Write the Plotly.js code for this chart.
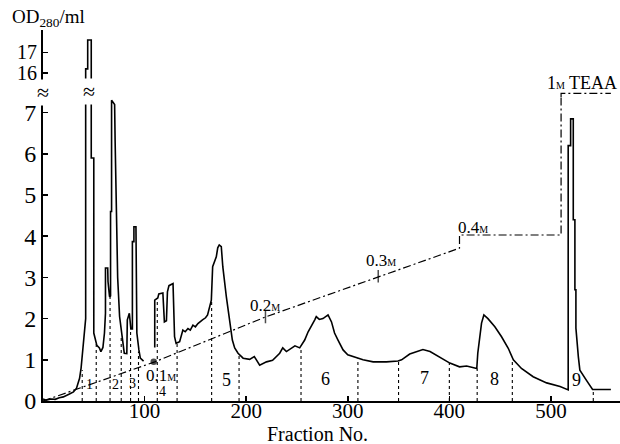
<!DOCTYPE html>
<html>
<head>
<meta charset="utf-8">
<script src="https://cdn.plot.ly/plotly-3.0.1.min.js"></script>
<style>html,body{margin:0;padding:0;background:#fff;}#chart{width:620px;height:444px;}</style>
</head>
<body>
<div id="chart"></div>
<script>
// Elution profile: fraction number vs OD280/ml
var fraction = [0,3,8,12,16,20,26,30,33,36,37.5,39.5,41,42,42,44,44,47.5,47.5,50,50,52,53,55.5,57,59,60.5,61.5,61.5,63.7,64,65.5,66.5,66.5,67.5,67.5,70.5,71,72,73.5,75.4,78,80,82.5,83,85,86.5,88,88,89.5,89.5,91.5,92.4,94.4,95.8,99,null,110,110,113,114,118,119.5,121.5,122.5,124,128,129.5,131,134.5,137.7,140,142.7,145,147.6,150,152.5,157,160,162,165.7,167,170.6,172,173.5,175.5,177,180.5,183.7,186.4,188.7,192,197,203.4,208,213.3,220,226,233,236,239.6,244.5,248,252.7,257.6,261,264,267.5,269,272,275.6,280.6,284,287,290.4,295.4,300,307,315,325,338,349.5,353,361,368,374,381,389,400.5,410,417,422,427,428,430,431.7,434,438,444.8,451.4,458,463,471,482.5,495.8,509,517,517,519.4,519.4,522,522,523.6,523.6,524.6,524.6,527,528.5,535,541,559];
var od = [0.05,0.02,0.05,0.04,0.08,0.1,0.17,0.22,0.31,0.55,0.8,1.3,1.6,2.0,16.2,16.2,17.6,17.6,5.9,5.9,1.65,1.48,1.35,1.29,1.2,1.3,1.65,2.13,3.23,3.23,2.9,2.53,2.55,4.6,4.6,7.3,7.2,6.3,4.63,3.0,2.05,1.6,1.16,1.15,1.97,2.13,1.75,1.75,3.87,3.87,4.23,4.23,1.65,1.24,1.04,0.97,null,1.3,2.45,2.5,2.6,2.62,1.92,1.95,2.65,2.8,2.85,1.56,1.4,1.44,1.72,1.68,1.76,1.72,1.84,1.8,1.88,1.97,2.02,2.09,2.45,3.26,3.5,3.72,3.79,3.75,3.26,2.53,1.89,1.48,1.29,1.16,1.04,1.01,1.08,0.87,0.95,0.99,1.16,1.29,1.2,1.29,1.34,1.29,1.48,1.68,1.8,1.97,2.05,1.98,2.0,2.09,1.92,1.65,1.48,1.24,1.12,1.06,1.0,0.95,0.95,0.97,1.0,1.14,1.2,1.25,1.2,1.08,0.92,0.83,0.85,0.82,0.79,1.16,1.56,1.89,2.09,2.0,1.8,1.56,1.28,1.0,0.79,0.59,0.44,0.35,0.27,6.2,6.2,6.85,6.85,4.4,4.4,2.7,2.7,1.77,1.07,0.75,0.5,0.28,0.28];

// Salt gradient (molarity)
var gradFraction = [0,110,219,330,410,410,510,510,559];
var gradMolar = [0,0.095,0.204,0.30,0.371,0.403,0.403,1.0,1.0];
var markFraction = [109,219,330];
var markMolar = [0.095,0.204,0.303];

// Pooled-fraction cut lines
var cutFraction = [38.6,52.4,66,77,86.2,94,112.5,132,166,193,254,310,350,400,427.4,462,541.7];
var cutHeight = [0.75,1.45,2.55,1.6,1.8,1.2,2.45,1.42,2.45,1.15,1.3,1.03,0.97,0.92,0.79,1.0,0.28];

// Pool labels
var poolLabels = ['1','2','3','4','5','6','7','8','9'];
var poolX = [45.8,71.4,88,118,180.5,278.5,376,444.8,525];
var poolY = [0.39,0.41,0.43,0.22,0.51,0.53,0.55,0.53,0.51];
var xTicks = [100,200,300,400,500];
var yTicksLow = [0,1,2,3,4,5,6,7];
var yTicksHigh = [16,17];

var cutX = [], cutY = [];
for (var i = 0; i < cutFraction.length; i++) {
  cutX.push(cutFraction[i], cutFraction[i], null);
  cutY.push(0, cutHeight[i], null);
}

var blk = 'black';
var traces = [
  {x: fraction, y: od, xaxis: 'x', yaxis: 'y', mode: 'lines', line: {color: blk, width: 1.6}, connectgaps: false, hoverinfo: 'skip'},
  {x: fraction, y: od, xaxis: 'x', yaxis: 'y2', mode: 'lines', line: {color: blk, width: 1.6}, connectgaps: false, hoverinfo: 'skip'},
  {x: gradFraction, y: gradMolar, xaxis: 'x', yaxis: 'y3', mode: 'lines', line: {color: blk, width: 1.2, dash: '8px,3px,2px,3px'}},
  {x: gradFraction, y: gradMolar, xaxis: 'x', yaxis: 'y4', mode: 'lines', line: {color: blk, width: 1.2, dash: '8px,3px,2px,3px'}},
  {x: markFraction, y: markMolar, xaxis: 'x', yaxis: 'y3', mode: 'markers',
   marker: {color: blk, size: [5, 9, 9], symbol: ['circle', 'line-ns-open', 'line-ns-open'], line: {color: blk, width: 1.5}}},
  {x: cutX, y: cutY, xaxis: 'x', yaxis: 'y', mode: 'lines', line: {color: blk, width: 1.1, dash: 'dot'}, connectgaps: false}
];

var serif = 'Liberation Serif, Times New Roman, serif';
var ann = [];
for (var k = 0; k < poolLabels.length; k++) {
  ann.push({x: poolX[k], y: poolY[k], xref: 'x', yref: 'y', text: poolLabels[k], showarrow: false,
    font: {size: k < 4 ? 14 : 18, family: serif, color: blk}});
}
var sm = function(t, s){ return t + '<span style="font-size:' + s + 'px">M</span>'; };
ann.push({x: 116.5, y: 0.63, xref: 'x', yref: 'y', text: sm('0.1', 10), showarrow: false, font: {size: 17, family: serif, color: blk}});
ann.push({x: 219, y: 2.33, xref: 'x', yref: 'y', text: sm('0.2', 10), showarrow: false, font: {size: 17, family: serif, color: blk}});
ann.push({x: 332.5, y: 3.4, xref: 'x', yref: 'y', text: sm('0.3', 10), showarrow: false, font: {size: 17, family: serif, color: blk}});
ann.push({x: 423, y: 4.2, xref: 'x', yref: 'y', text: sm('0.4', 10), showarrow: false, font: {size: 17, family: serif, color: blk}});
ann.push({x: 530.5, y: 15.53, xref: 'x', yref: 'y2', text: '1<span style="font-size:10px">M</span> TEAA', showarrow: false, font: {size: 18, family: serif, color: blk}});
ann.push({x: -0.0572, y: 1.032, xref: 'paper', yref: 'paper', xanchor: 'left', yanchor: 'middle', text: 'OD<sub>280</sub>/ml', showarrow: false, font: {size: 19, family: serif, color: blk}});
ann.push({x: 0.4755, y: -0.0895, xref: 'paper', yref: 'paper', xanchor: 'center', yanchor: 'middle', text: 'Fraction No.', showarrow: false, font: {size: 20, family: serif, color: blk}});
ann.push({x: 0, y: 0.832, xref: 'paper', yref: 'paper', xanchor: 'center', yanchor: 'middle', text: '≈', showarrow: false, bgcolor: 'white', borderpad: 0, font: {size: 22, family: serif, color: blk}});
ann.push({x: 0.0794, y: 0.835, xref: 'paper', yref: 'paper', xanchor: 'center', yanchor: 'middle', text: '≈', showarrow: false, bgcolor: 'white', borderpad: 0, font: {size: 22, family: serif, color: blk}});

var axStyle = {showline: true, linecolor: blk, linewidth: 2, ticks: 'inside', ticklen: 5, tickwidth: 1.5, tickcolor: blk, showgrid: false, zeroline: false};
var layout = {
  width: 620, height: 444,
  margin: {l: 43, r: 0, t: 30, b: 43},
  paper_bgcolor: 'white', plot_bgcolor: 'white',
  showlegend: false,
  font: {family: serif, color: blk},
  xaxis: Object.assign({}, axStyle, {range: [0, 568], tickvals: xTicks, tickfont: {size: 21, family: serif},
    ticklabelstandoff: -10, anchor: 'y'}),
  yaxis: Object.assign({}, axStyle, {domain: [0, 0.8194], range: [0, 7.38], tickvals: yTicksLow, tickfont: {size: 24, family: serif}, anchor: 'x'}),
  yaxis2: Object.assign({}, axStyle, {domain: [0.8194, 1], range: [14.83, 18.09], tickvals: yTicksHigh, tickfont: {size: 20, family: serif}, anchor: 'x'}),
  yaxis3: {overlaying: 'y', range: [0, 0.738], visible: false},
  yaxis4: {overlaying: 'y2', range: [0.963, 1.633], visible: false},
  annotations: ann
};
Plotly.newPlot('chart', traces, layout, {staticPlot: true, displayModeBar: false});
</script>
</body>
</html>
